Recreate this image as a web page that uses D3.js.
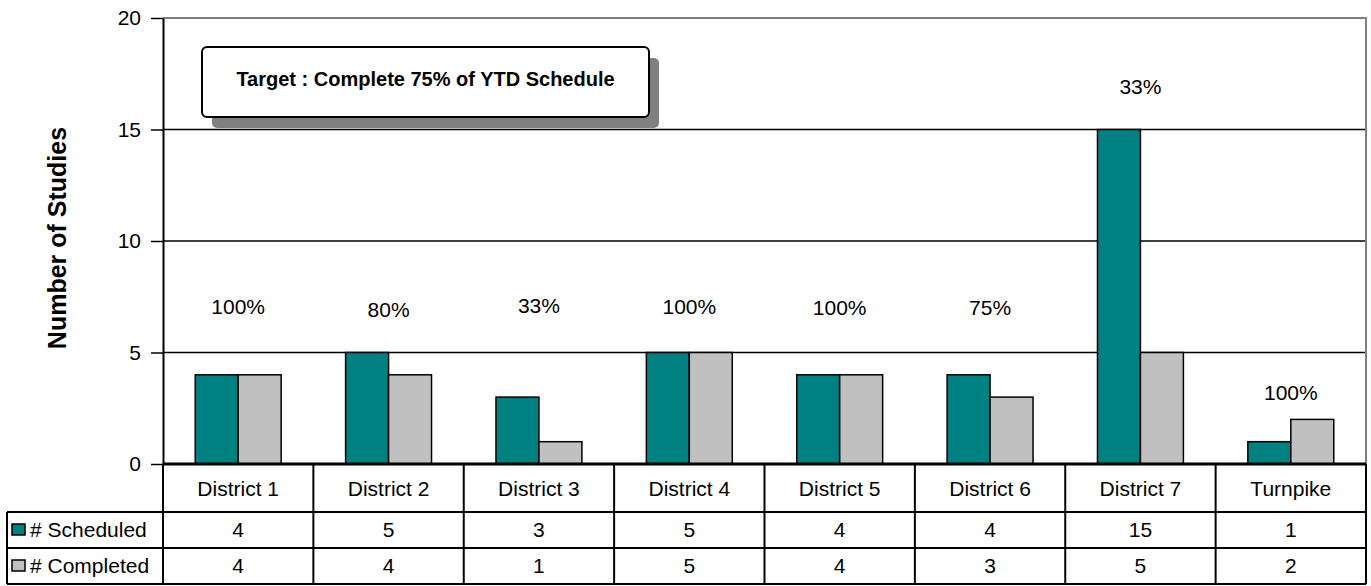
<!DOCTYPE html>
<html>
<head>
<meta charset="utf-8">
<script src="https://cdn.jsdelivr.net/npm/d3@7"></script>
<style>
  body { margin: 0; background: #fff; }
  svg { font-family: "Liberation Sans", Arial, sans-serif; }
</style>
</head>
<body>
<div id="chart"></div>
<script>
// data
var districts = ["District 1", "District 2", "District 3", "District 4", "District 5", "District 6", "District 7", "Turnpike"];
var scheduled = [4, 5, 3, 5, 4, 4, 15, 1];
var completed = [4, 4, 1, 5, 4, 3, 5, 2];
var pctLabels = ["100%", "80%", "33%", "100%", "100%", "75%", "33%", "100%"];
var pctLabelY = [7.05, 6.9, 7.1, 7.05, 7.0, 7.0, 16.9, 3.2];
var yTicks = [0, 5, 10, 15, 20];
var seriesNames = ["# Scheduled", "# Completed"];
var seriesColors = ["#008080", "#c0c0c0"];
var targetText = "Target : Complete 75% of YTD Schedule";

var W = 1371, H = 586;
var margin = {top: 18, right: 5, bottom: 122, left: 163};
var width = W - margin.left - margin.right,
    height = H - margin.top - margin.bottom;
var fs = "21px";

var svg = d3.select("#chart").append("svg")
  .attr("width", W)
  .attr("height", H);

var g = svg.append("g")
  .attr("transform", "translate(" + margin.left + "," + margin.top + ")");

// scales
var x = d3.scaleBand().domain(districts).range([0, width]);
var y = d3.scaleLinear().domain([0, 20]).range([height, 0]);
var barW = x.bandwidth() / 3.5;

// gridlines
g.selectAll(".grid").data(yTicks.slice(1, 4)).enter().append("line")
  .attr("x1", 0).attr("x2", width)
  .attr("y1", function(d) { return y(d); })
  .attr("y2", function(d) { return y(d); })
  .attr("stroke", "#000").attr("stroke-width", 1.3);

// top and right border (gray)
g.append("path")
  .attr("d", "M0," + y(20) + "H" + width + "V" + height)
  .attr("fill", "none").attr("stroke", "#808080").attr("stroke-width", 2);

// target box with shadow
var box = {x: 202 - margin.left, y: 47 - margin.top, w: 447, h: 70};
g.append("rect")
  .attr("x", box.x + 10).attr("y", box.y + 11)
  .attr("width", box.w).attr("height", box.h)
  .attr("rx", 5).attr("fill", "#808080");
g.append("rect")
  .attr("x", box.x).attr("y", box.y)
  .attr("width", box.w).attr("height", box.h)
  .attr("rx", 5).attr("fill", "#fff")
  .attr("stroke", "#000").attr("stroke-width", 2);
g.append("text")
  .attr("x", box.x + box.w / 2).attr("y", box.y + box.h / 2 - 3)
  .attr("dy", "0.35em")
  .attr("text-anchor", "middle")
  .style("font-size", "20px").style("font-weight", "bold")
  .text(targetText);

// bars
var series = [scheduled, completed];
series.forEach(function(vals, si) {
  g.selectAll(".bar" + si).data(vals).enter().append("rect")
    .attr("x", function(d, i) { return x(districts[i]) + x.bandwidth() / 2 - barW + si * barW; })
    .attr("y", function(d) { return y(d); })
    .attr("width", barW)
    .attr("height", function(d) { return height - y(d); })
    .attr("fill", seriesColors[si])
    .attr("stroke", "#000").attr("stroke-width", 1.5);
});

// percent labels
g.selectAll(".pct").data(pctLabels).enter().append("text")
  .attr("x", function(d, i) { return x(districts[i]) + x.bandwidth() / 2; })
  .attr("y", function(d, i) { return y(pctLabelY[i]); })
  .attr("dy", "0.35em")
  .attr("text-anchor", "middle")
  .style("font-size", fs)
  .text(function(d) { return d; });

// y axis
var yAxis = g.append("g")
  .call(d3.axisLeft(y).tickValues(yTicks).tickSize(12).tickSizeOuter(0).tickPadding(10));
yAxis.select(".domain").attr("stroke", "#000").attr("stroke-width", 2);
yAxis.selectAll(".tick line").attr("stroke", "#000").attr("stroke-width", 1.5)
  .attr("x2", 0).attr("x1", -12);
yAxis.selectAll(".tick text").style("font-size", fs).attr("fill", "#000").attr("x", -22);

// y title
svg.append("text")
  .attr("transform", "translate(57,238) rotate(-90)")
  .attr("dy", "0.35em")
  .attr("text-anchor", "middle")
  .style("font-size", "25px").style("font-weight", "bold")
  .text("Number of Studies");

// data table
var row0 = margin.top + height, row1 = 512, row2 = 548, row3 = 584;
var tableLeft = 7;
var t = svg.append("g");
var lineCol = "#000";

// bottom axis line
t.append("line").attr("x1", margin.left).attr("x2", margin.left + width)
  .attr("y1", row0).attr("y2", row0).attr("stroke", lineCol).attr("stroke-width", 3);
// horizontal lines
[row1, row2, row3].forEach(function(ry) {
  t.append("line").attr("x1", tableLeft).attr("x2", margin.left + width)
    .attr("y1", ry).attr("y2", ry).attr("stroke", lineCol).attr("stroke-width", 2);
});
// vertical lines
t.append("line").attr("x1", tableLeft).attr("x2", tableLeft)
  .attr("y1", row1).attr("y2", row3).attr("stroke", lineCol).attr("stroke-width", 2);
districts.forEach(function(d, i) {
  t.append("line")
    .attr("x1", margin.left + x(d)).attr("x2", margin.left + x(d))
    .attr("y1", row0).attr("y2", row3)
    .attr("stroke", lineCol).attr("stroke-width", 2);
});
t.append("line").attr("x1", margin.left + width).attr("x2", margin.left + width)
  .attr("y1", row0).attr("y2", row3).attr("stroke", lineCol).attr("stroke-width", 2);

// category labels
t.selectAll(".cat").data(districts).enter().append("text")
  .attr("x", function(d) { return margin.left + x(d) + x.bandwidth() / 2; })
  .attr("y", (row0 + row1) / 2 + 1).attr("dy", "0.35em")
  .attr("text-anchor", "middle").style("font-size", fs)
  .text(function(d) { return d; });

// series rows
var rowsY = [(row1 + row2) / 2, (row2 + row3) / 2];
series.forEach(function(vals, si) {
  t.append("rect")
    .attr("x", 12).attr("y", rowsY[si] - 6)
    .attr("width", 13).attr("height", 11)
    .attr("fill", seriesColors[si]).attr("stroke", "#000").attr("stroke-width", 1.5);
  t.append("text")
    .attr("x", 30).attr("y", rowsY[si]).attr("dy", "0.35em")
    .style("font-size", fs)
    .text(seriesNames[si]);
  t.selectAll(".val" + si).data(vals).enter().append("text")
    .attr("x", function(d, i) { return margin.left + x(districts[i]) + x.bandwidth() / 2; })
    .attr("y", rowsY[si]).attr("dy", "0.35em")
    .attr("text-anchor", "middle").style("font-size", fs)
    .text(function(d) { return d; });
});
</script>
</body>
</html>
